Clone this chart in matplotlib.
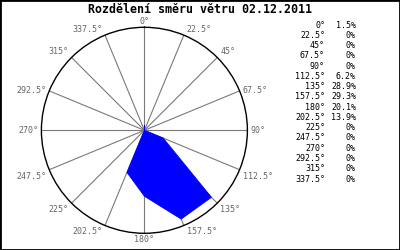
import numpy as np
import matplotlib
matplotlib.use('Agg')
import matplotlib.pyplot as plt
from matplotlib.patches import Rectangle

# wind direction share, 02.12.2011
directions = [0, 22.5, 45, 67.5, 90, 112.5, 135, 157.5,
              180, 202.5, 225, 247.5, 270, 292.5, 315, 337.5]
shares = [1.5, 0, 0, 0, 0, 6.2, 28.9, 29.3,
          20.1, 13.9, 0, 0, 0, 0, 0, 0]
title = 'Rozdělení směru větru 02.12.2011'

W, H = 400, 250
R_MAX = 31.4
MONO = 'DejaVu Sans Mono'


def px(x, y):
    # pixel (from top left) -> figure fraction
    return x / W, 1 - y / H


fig = plt.figure(figsize=(4, 2.5), dpi=100)
fig.patch.set_facecolor('white')

cx, cy, rad = 144.4, 130.3, 103
ax = fig.add_axes([(cx - rad) / W, (H - cy - rad) / H, 2 * rad / W, 2 * rad / H],
                  projection='polar')
ax.set_theta_zero_location('N')
ax.set_theta_direction(-1)
ax.set_ylim(0, R_MAX)
ax.grid(False)
ax.set_xticks([])
ax.set_yticks([])
ax.spines['polar'].set_color('black')
ax.spines['polar'].set_linewidth(1.0)

theta = np.deg2rad(directions)

# spokes
for t in theta:
    ax.plot([t, t], [0, R_MAX], color='#7a7a7a', lw=0.8, zorder=1)

# filled rose
t_closed = np.append(theta, theta[0])
r_closed = np.append(shares, shares[0])
ax.fill(t_closed, r_closed, color='#0000ff', lw=0.6, ec='#0000ff', zorder=3)

# direction labels round the circle
for d, t in zip(directions, theta):
    s, c = np.sin(t), np.cos(t)
    ha = 'left' if s > 0.1 else ('right' if s < -0.1 else 'center')
    va = 'bottom' if c > 0.5 else ('top' if c < -0.3 else 'center')
    ox = 3 if ha == 'left' else (-3 if ha == 'right' else 0)
    oy = 1 if va == 'bottom' else (-2 if va == 'top' else 0)
    ax.annotate('{:g}°'.format(d), xy=(t, R_MAX), xytext=(ox, oy),
                textcoords='offset pixels', ha=ha, va=va,
                fontsize=6, family=MONO, color='#666666', annotation_clip=False)

# table on the right
for i, (d, v) in enumerate(zip(directions, shares)):
    y = 25 + i * 10.27
    fig.text(*px(325, y), '{:g}°'.format(d), ha='right', va='center',
             fontsize=6, family=MONO, color='black')
    fig.text(*px(356, y), '{:g}%'.format(v), ha='right', va='center',
             fontsize=6, family=MONO, color='black')

fig.text(*px(200, 9.5), title, ha='center', va='center',
         fontsize=8.4, family=MONO, fontweight='bold', color='black')

fig.add_artist(Rectangle((0, 0), 1, 1, transform=fig.transFigure,
                         fill=False, ec='black', lw=2))

fig.savefig('out.png', dpi=100)
